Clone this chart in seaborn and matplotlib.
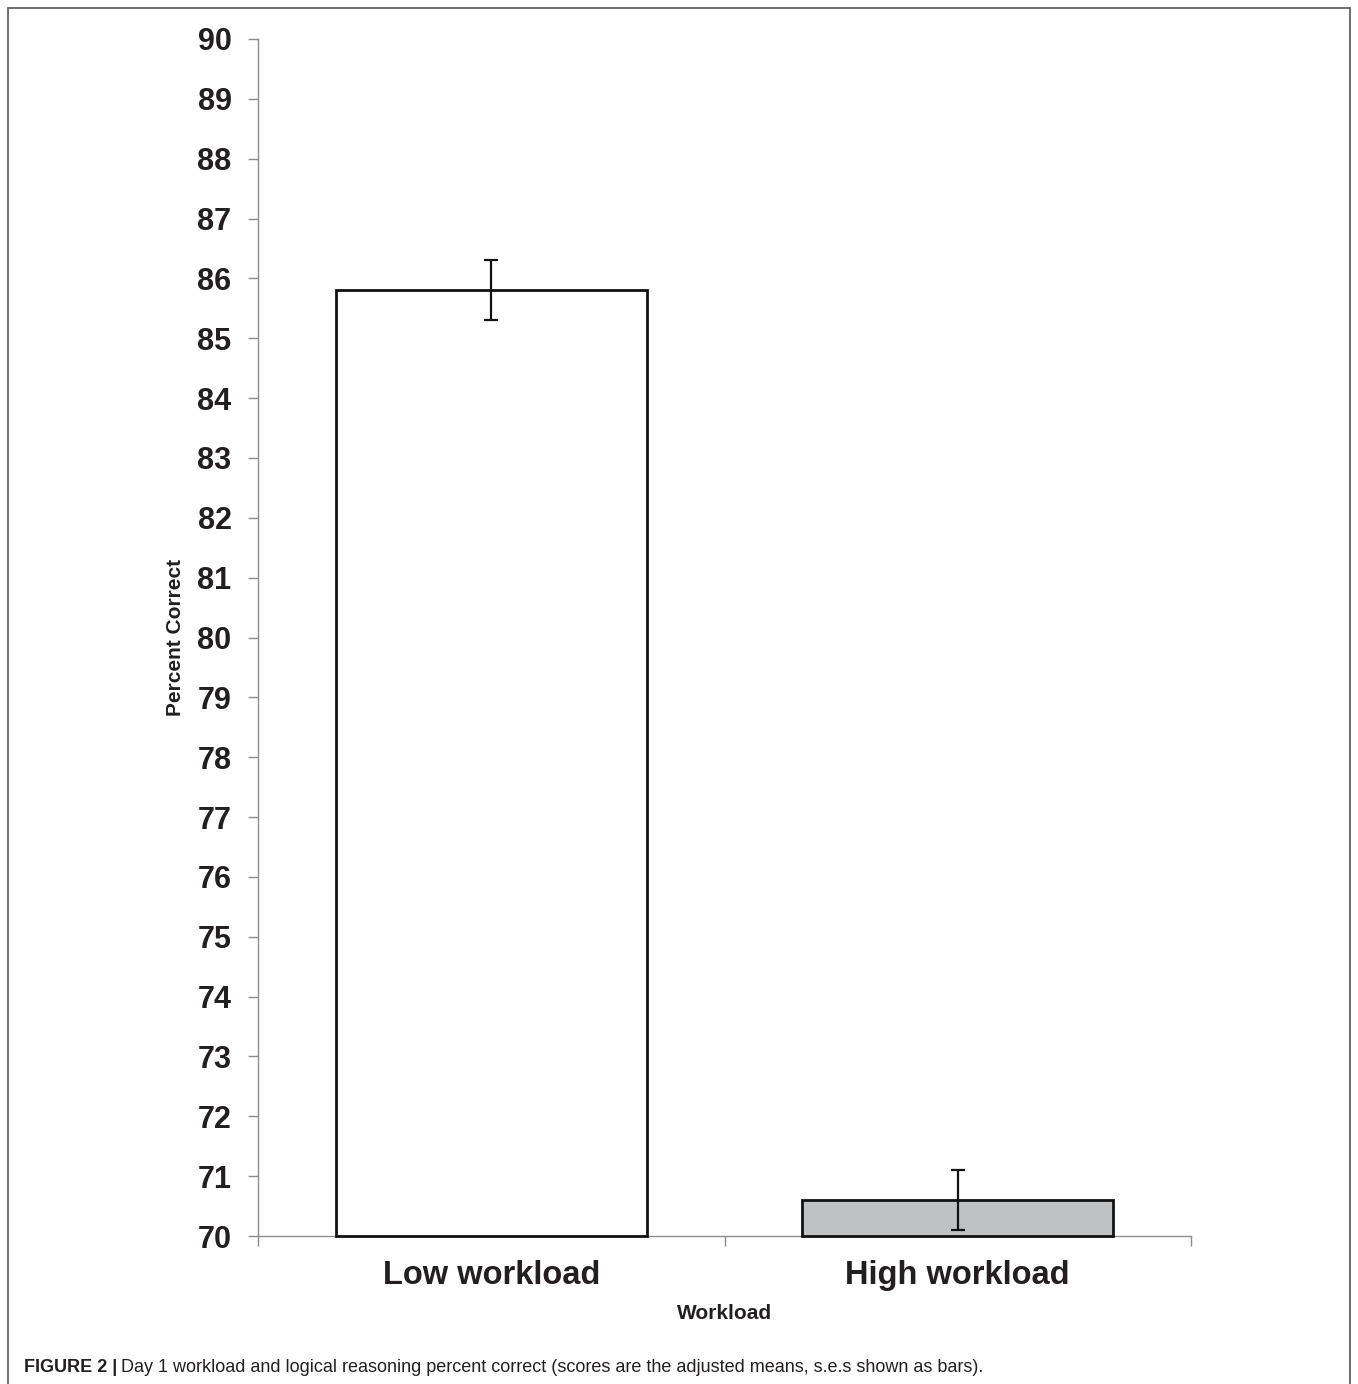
import matplotlib
matplotlib.use('Agg')
import pandas as pd
import seaborn as sns
import matplotlib.pyplot as plt
from matplotlib.patches import Rectangle

# данные: скорректированные средние и стандартные ошибки
workload = ['Low workload', 'High workload']
percent_correct = [85.8, 70.6]
se = [0.5, 0.5]
bar_colors = ['#ffffff', '#c0c1c3']
y_ticks = list(range(70, 91))

df = pd.DataFrame({'Workload': workload, 'Percent': percent_correct})

sns.set_style('white')
plt.rcParams['font.family'] = ['Liberation Sans', 'DejaVu Sans']
txt = '#231f20'
axis_gray = '#8c8c8c'

fig = plt.figure(figsize=(13.58, 13.84), dpi=100)
ax = fig.add_axes([258/1358, 1 - 1236/1384, 933/1358, 1197/1384])

sns.barplot(data=df, x='Workload', y='Percent', hue='Workload', palette=bar_colors,
            width=0.667, edgecolor='#111111', linewidth=2, errorbar=None,
            legend=False, ax=ax)

# столбцы начинаются от 70, как в оригинале
for p in ax.patches:
    p.set_height(p.get_height() - 70)
    p.set_y(70)
    p.set_zorder(3)
    p.set_clip_on(False)

ax.errorbar(workload, percent_correct, yerr=se, fmt='none', ecolor='#111111',
            elinewidth=1.6, capsize=5, capthick=1.6, zorder=5)

ax.set_xlim(-0.5, 1.5)
ax.set_ylim(70, 90)
ax.set_yticks(y_ticks)
ax.set_yticklabels([str(t) for t in y_ticks], fontsize=22, fontweight='bold', color=txt)

# засечки между категориями, подписи по центру
ax.set_xticks([-0.5, 0.5, 1.5])
ax.set_xticklabels([])
ax.set_xticks([0, 1], minor=True)
ax.set_xticklabels(workload, minor=True, fontsize=23.5, fontweight='bold', color=txt)
ax.tick_params(axis='x', which='major', direction='out', length=7, width=1, color=axis_gray, bottom=True)
ax.tick_params(axis='x', which='minor', length=0, pad=17)
ax.tick_params(axis='y', direction='out', length=7, width=1, color=axis_gray, pad=12, left=True)

sns.despine(ax=ax)
for s in ['left', 'bottom']:
    ax.spines[s].set_color(axis_gray)
    ax.spines[s].set_linewidth(1)
    ax.spines[s].set_zorder(1)

ax.set_xlabel('Workload', fontsize=15, fontweight='bold', color=txt)
ax.set_ylabel('Percent Correct', fontsize=15, fontweight='bold', color=txt)
ax.xaxis.set_label_coords(0.5, -0.057)
ax.yaxis.set_label_coords(-0.078, 0.5)

# рамка вокруг рисунка
fig.patches.append(Rectangle((8/1358, -0.02), (1350 - 8)/1358, 1 - 8/1384 + 0.02,
                             transform=fig.transFigure, fill=False,
                             edgecolor='#555555', linewidth=1.2))

# подпись к рисунку
t1 = fig.text(24/1358, 1 - 1367/1384, 'FIGURE 2 |', fontsize=13, fontweight='bold',
              color=txt, va='center', ha='left')
fig.canvas.draw()
bb = t1.get_window_extent(fig.canvas.get_renderer())
fig.text(bb.x1/1358 + 4/1358, 1 - 1367/1384,
         'Day 1 workload and logical reasoning percent correct (scores are the adjusted means, s.e.s shown as bars).',
         fontsize=13, color=txt, va='center', ha='left')

fig.savefig('out.png', dpi=100)
